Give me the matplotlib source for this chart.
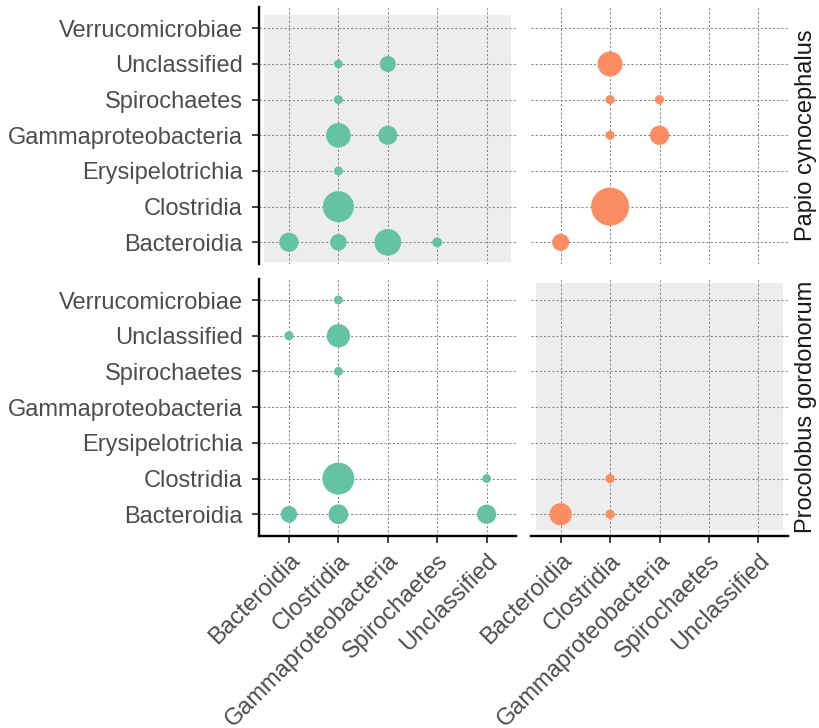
import matplotlib
matplotlib.use("Agg")
import matplotlib.pyplot as plt
from matplotlib.patches import Rectangle

plt.rcParams['font.family'] = ['Liberation Sans', 'DejaVu Sans']

# ---- data ----
y_classes = ["Bacteroidia", "Clostridia", "Erysipelotrichia", "Gammaproteobacteria",
             "Spirochaetes", "Unclassified", "Verrucomicrobiae"]
x_classes = ["Bacteroidia", "Clostridia", "Gammaproteobacteria", "Spirochaetes", "Unclassified"]
hosts = ["Papio cynocephalus", "Procolobus gordonorum"]
host_colors = ["#66c2a5", "#fc8d62"]

# panel: row host Papio, column host Papio
pp_x = ["Clostridia", "Gammaproteobacteria", "Clostridia", "Clostridia", "Gammaproteobacteria",
        "Clostridia", "Clostridia", "Bacteroidia", "Clostridia", "Gammaproteobacteria", "Spirochaetes"]
pp_y = ["Unclassified", "Unclassified", "Spirochaetes", "Gammaproteobacteria", "Gammaproteobacteria",
        "Erysipelotrichia", "Clostridia", "Bacteroidia", "Bacteroidia", "Bacteroidia", "Bacteroidia"]
pp_v = [0.95, 3.2, 1.0, 7.5, 4.5, 1.0, 11.9, 4.6, 3.4, 8.8, 1.2]

# panel: row Papio, column Procolobus
pg_x = ["Clostridia", "Clostridia", "Gammaproteobacteria", "Clostridia", "Gammaproteobacteria",
        "Clostridia", "Bacteroidia"]
pg_y = ["Unclassified", "Spirochaetes", "Spirochaetes", "Gammaproteobacteria", "Gammaproteobacteria",
        "Clostridia", "Bacteroidia"]
pg_v = [7.7, 1.05, 1.05, 1.05, 4.6, 17.8, 3.6]

# panel: row Procolobus, column Papio
gp_x = ["Clostridia", "Bacteroidia", "Clostridia", "Clostridia", "Clostridia", "Unclassified",
        "Bacteroidia", "Clostridia", "Unclassified"]
gp_y = ["Verrucomicrobiae", "Unclassified", "Unclassified", "Spirochaetes", "Clostridia", "Clostridia",
        "Bacteroidia", "Bacteroidia", "Bacteroidia"]
gp_v = [1.0, 1.05, 6.7, 1.0, 12.6, 0.95, 3.4, 4.8, 4.6]

# panel: row Procolobus, column Procolobus
gg_x = ["Clostridia", "Bacteroidia", "Clostridia"]
gg_y = ["Clostridia", "Bacteroidia", "Bacteroidia"]
gg_v = [1.05, 6.1, 1.05]

panels = {(0, 0): (pp_x, pp_y, pp_v), (0, 1): (pg_x, pg_y, pg_v),
          (1, 0): (gp_x, gp_y, gp_v), (1, 1): (gg_x, gg_y, gg_v)}

# ---- layout ----
W, H = 819, 728
fig = plt.figure(figsize=(W / 100, H / 100), dpi=100)
col_left = [259.3 / W, 531.0 / W]
col_w = 257.0 / W
row_bottom = [1 - 263.7 / H, 1 - 535.7 / H]
row_h = [256.8 / H, 257.1 / H]

# shaded self-comparison panels (x0, x1, y0, y1)
shade = {(0, 0): (0.5, 5.5, 0.46, 7.37), (1, 1): (0.5, 5.5, 0.57, 7.48)}

label_color = "#4d4d4d"
size_scale = 42.0

for (r, c), (xs, ys, vs) in panels.items():
    ax = fig.add_axes([col_left[c], row_bottom[r], col_w, row_h[r]])
    ax.set_xlim(0.4, len(x_classes) + 0.6)
    ax.set_ylim(0.4, len(y_classes) + 0.6)
    ax.set_facecolor("white")
    ax.set_xticks(range(1, len(x_classes) + 1))
    ax.set_yticks(range(1, len(y_classes) + 1))
    ax.set_axisbelow(True)
    ax.grid(True, color="#858585", linestyle=(0, (2, 2)), linewidth=0.75, zorder=1)
    if (r, c) in shade:
        x0, x1, y0, y1 = shade[(r, c)]
        ax.add_patch(Rectangle((x0, y0), x1 - x0, y1 - y0, facecolor="#ededed",
                               edgecolor="none", zorder=0.5))
    xi = [x_classes.index(v) + 1 for v in xs]
    yi = [y_classes.index(v) + 1 for v in ys]
    ax.scatter(xi, yi, s=[size_scale * v for v in vs], color=host_colors[c],
               edgecolors="none", zorder=3, clip_on=False)
    for s in ["top", "right"]:
        ax.spines[s].set_visible(False)
    ax.spines["left"].set_visible(c == 0)
    ax.spines["bottom"].set_visible(r == 1)
    for s in ["left", "bottom"]:
        ax.spines[s].set_linewidth(1.7)
        ax.spines[s].set_color("black")
    ax.tick_params(axis="both", length=5, width=1.3, color="#333333",
                   labelsize=17, labelcolor=label_color, pad=7)
    if c == 0:
        ax.set_yticklabels(y_classes)
    else:
        ax.tick_params(axis="y", left=False, labelleft=False)
    if r == 1:
        ax.set_xticklabels(x_classes, rotation=45, ha="right", va="top",
                           rotation_mode="anchor")
        ax.tick_params(axis="x", pad=5)
    else:
        ax.tick_params(axis="x", bottom=False, labelbottom=False)

for r in range(2):
    fig.text(806 / W, row_bottom[r] + row_h[r] / 2, hosts[r], rotation=90,
             ha="center", va="center", fontsize=17, color="#1a1a1a")

fig.savefig("out.png", dpi=100)
